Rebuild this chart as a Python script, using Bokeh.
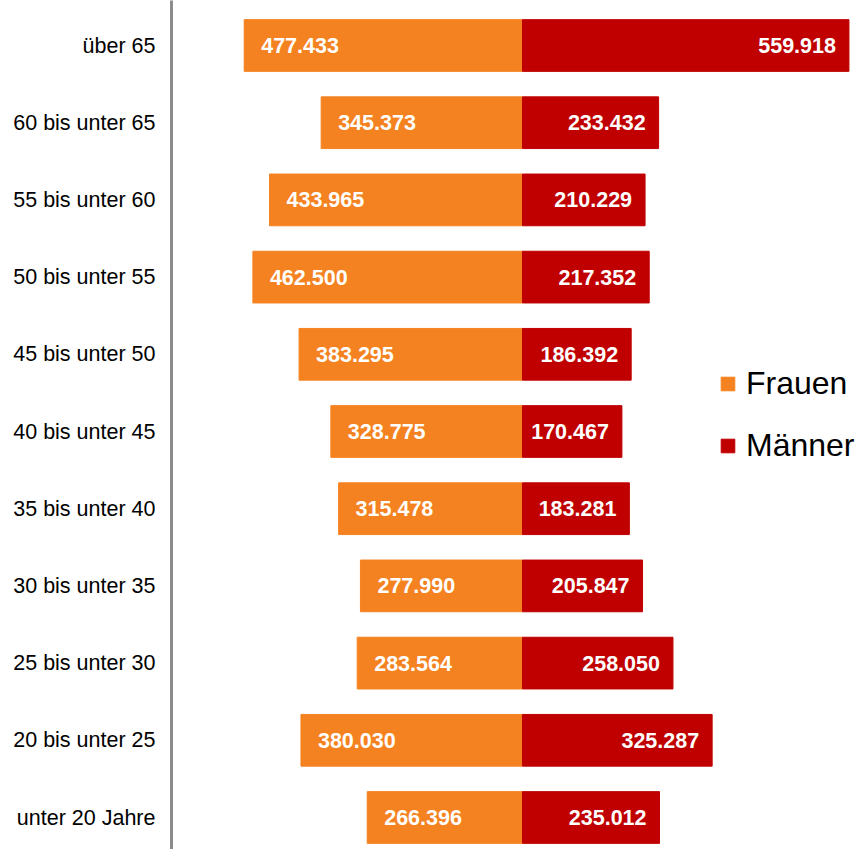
from bokeh.plotting import figure
from bokeh.models import (ColumnDataSource, LinearAxis, FixedTicker, Range1d,
                          Legend, LegendItem, LabelSet)
from bokeh.core.properties import value
from bokeh.embed import file_html
from bokeh.resources import INLINE

categories = ["unter 20 Jahre", "20 bis unter 25", "25 bis unter 30", "30 bis unter 35",
              "35 bis unter 40", "40 bis unter 45", "45 bis unter 50", "50 bis unter 55",
              "55 bis unter 60", "60 bis unter 65", "über 65"]
frauen = [266396, 380030, 283564, 277990, 315478, 328775, 383295, 462500, 433965, 345373, 477433]
maenner = [235012, 325287, 258050, 205847, 183281, 170467, 186392, 217352, 210229, 233432, 559918]

ORANGE = "#F58220"
RED = "#C00000"
FONT = "Liberation Sans"

def fmt(v):
    return f"{v:,}".replace(",", ".")

idx = list(range(len(categories)))
src = ColumnDataSource(dict(
    y=idx,
    f_left=[-v for v in frauen],
    m_right=maenner,
    zero=[0] * len(idx),
    f_lab=[fmt(v) for v in frauen],
    m_lab=[fmt(v) for v in maenner],
))

p = figure(width=857, height=849, output_backend="svg", toolbar_location=None,
           x_range=Range1d(-602100, 574600), y_range=Range1d(-0.4145, 10.583),
           min_border_left=171, min_border_right=0, min_border_top=0, min_border_bottom=0,
           y_axis_location=None)
p.xaxis.visible = False
p.grid.visible = False
p.outline_line_color = None

rf = p.hbar(y="y", left="f_left", right="zero", height=0.67, color=ORANGE, source=src)
rm = p.hbar(y="y", left="zero", right="m_right", height=0.67, color=RED, source=src)

p.add_layout(LabelSet(x="f_left", y="y", text="f_lab", source=src, x_offset=17,
                      text_align="left", text_baseline="middle", text_color="white",
                      text_font=value(FONT), text_font_style="bold", text_font_size="21.5px"))
p.add_layout(LabelSet(x="m_right", y="y", text="m_lab", source=src, x_offset=-13,
                      text_align="right", text_baseline="middle", text_color="white",
                      text_font=value(FONT), text_font_style="bold", text_font_size="21.5px"))

yax = LinearAxis(ticker=FixedTicker(ticks=idx),
                 major_label_overrides={i: c for i, c in zip(idx, categories)},
                 axis_line_color="#8C8C8C", axis_line_width=3,
                 major_tick_line_color=None, minor_tick_line_color=None,
                 major_tick_out=0, major_tick_in=0,
                 major_label_standoff=16,
                 major_label_text_font=FONT, major_label_text_font_size="21.5px",
                 major_label_text_color="black")
p.add_layout(yax, "left")

legend = Legend(items=[LegendItem(label="Frauen", renderers=[rf]),
                       LegendItem(label="Männer", renderers=[rm])],
                location=(548, 385), glyph_width=17, glyph_height=17,
                label_text_font=FONT, label_text_font_size="32px",
                label_text_color="black",
                label_standoff=10, spacing=25, padding=0, margin=0,
                border_line_color=None, background_fill_alpha=0)
p.add_layout(legend)

open("out.html", "w").write(file_html(p, INLINE))
